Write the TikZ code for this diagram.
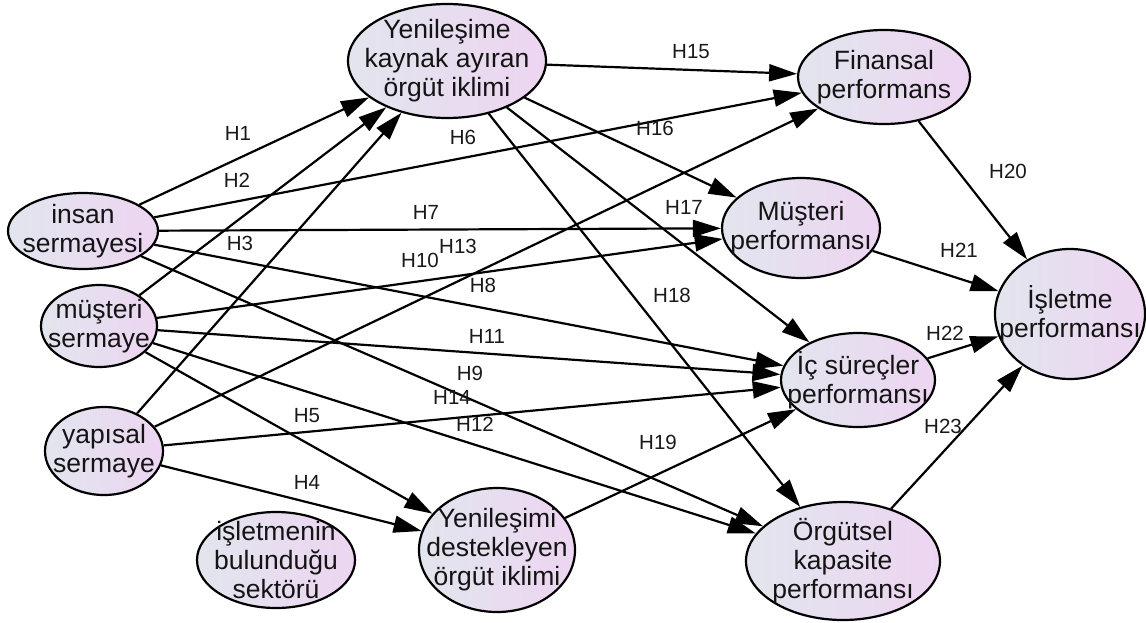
\documentclass[tikz,border=0pt]{standalone}
\usepackage{fontspec}
\setmainfont{Liberation Sans}
\usetikzlibrary{shapes.geometric,arrows.meta}
\definecolor{fillL}{HTML}{E2E5EE}
\definecolor{fillR}{HTML}{EDD5F1}
\begin{document}
\begin{tikzpicture}[x=1pt,y=-1pt,
  construct/.style={ellipse, draw=black, line width=2.2pt, left color=fillL, right color=fillR, inner sep=0pt},
  ctext/.style={align=center, font=\fontsize{26.5}{29}\selectfont, text=black!92, inner sep=0pt},
  hyp/.style={font=\fontsize{20.5}{23}\selectfont, text=black!90, inner sep=0pt},
  link/.style={line width=2.2pt, -{Triangle[length=28pt,width=17pt]}}]

\useasboundingbox (0,0) rectangle (1146,622);

% constructs (ellipses)
\node[construct, minimum width=198, minimum height=114] (Y1)  at (447,61)  {};
\node[construct, minimum width=172, minimum height=94]  (FP)  at (884,77)  {};
\node[construct, minimum width=158, minimum height=100] (MP)  at (801,228) {};
\node[construct, minimum width=150, minimum height=130] (IP)  at (1070,314) {};
\node[construct, minimum width=154, minimum height=94]  (ISP) at (858,380) {};
\node[construct, minimum width=194, minimum height=118] (OKP) at (843,561) {};
\node[construct, minimum width=156, minimum height=124] (Y2)  at (497,550) {};
\node[construct, minimum width=158, minimum height=96]  (SEK) at (276,560) {};
\node[construct, minimum width=150, minimum height=76]  (IS)  at (83,231)  {};
\node[construct, minimum width=116, minimum height=82]  (MS)  at (99,326)  {};
\node[construct, minimum width=118, minimum height=88]  (YS)  at (104,451) {};

% construct names
\node[ctext] (Y1t)  at (Y1)  {Yenileşime\\kaynak ayıran\\örgüt iklimi};
\node[ctext] (FPt)  at (FP)  {Finansal\\performans};
\node[ctext] (MPt)  at (MP)  {Müşteri\\performansı};
\node[ctext] (IPt)  at (IP)  {İşletme\\performansı};
\node[ctext] (ISPt) at (ISP) {İç süreçler\\performansı};
\node[ctext] (OKPt) at (OKP) {Örgütsel\\kapasite\\performansı};
\node[ctext] (Y2t)  at (Y2)  {Yenileşimi\\destekleyen\\örgüt iklimi};
\node[ctext] (SEKt) at (SEK) {işletmenin\\bulunduğu\\sektörü};
\node[ctext] (ISt)  at (IS)  {insan\\sermayesi};
\node[ctext] (MSt)  at (MS)  {müşteri\\sermaye};
\node[ctext] (YSt)  at (YS)  {yapısal\\sermaye};

% hypothesised paths
\draw[link] (IS) -- (Y1);
\draw[link] (MS) -- (Y1);
\draw[link] (YS) -- (Y1);
\draw[link] (IS) -- (FP);
\draw[link] (IS) -- (MP);
\draw[link] (IS) -- (ISP);
\draw[link] (IS) -- (OKP);
\draw[link] (MS) -- (MP);
\draw[link] (MS) -- (ISP);
\draw[link] (MS) -- (OKP);
\draw[link] (MS) -- (Y2);
\draw[link] (YS) -- (FP);
\draw[link] (YS) -- (ISP);
\draw[link] (YS) -- (Y2);
\draw[link] (Y1) -- (FP);
\draw[link] (Y1) -- (MP);
\draw[link] (Y1) -- (ISP);
\draw[link] (Y1) -- (OKP);
\draw[link] (Y2) -- (ISP);
\draw[link] (FP) -- (IP);
\draw[link] (MP) -- (IP);
\draw[link] (ISP) -- (IP);
\draw[link] (OKP) -- (IP);

% hypothesis labels
\node[hyp] (h1)  at (238,133) {H1};
\node[hyp] (h2)  at (237,180) {H2};
\node[hyp] (h3)  at (240,243) {H3};
\node[hyp] (h4)  at (307,482) {H4};
\node[hyp] (h5)  at (307,416) {H5};
\node[hyp] (h6)  at (463,137) {H6};
\node[hyp] (h7)  at (426,212) {H7};
\node[hyp] (h8)  at (483,285) {H8};
\node[hyp] (h9)  at (470,373) {H9};
\node[hyp] (h10) at (420,260) {H10};
\node[hyp] (h11) at (487,336) {H11};
\node[hyp] (h12) at (475,424) {H12};
\node[hyp] (h13) at (458,246) {H13};
\node[hyp] (h14) at (452,397) {H14};
\node[hyp] (h15) at (691,52)  {H15};
\node[hyp] (h16) at (655,128) {H16};
\node[hyp] (h17) at (684,207) {H17};
\node[hyp] (h18) at (672,295) {H18};
\node[hyp] (h19) at (658,442) {H19};
\node[hyp] (h20) at (1008,171) {H20};
\node[hyp] (h21) at (959,250) {H21};
\node[hyp] (h22) at (945,333) {H22};
\node[hyp] (h23) at (943,426) {H23};
\end{tikzpicture}
\end{document}
